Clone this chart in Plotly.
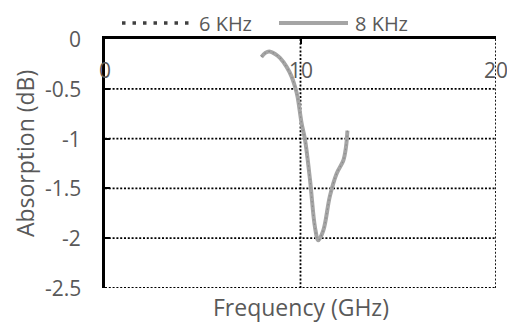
import plotly.graph_objects as go

freq = [8.0, 8.2, 8.4, 8.7, 8.95, 9.29, 9.55, 9.72, 9.85, 10.06, 10.23, 10.49, 10.74, 10.91, 11.17, 11.5, 11.85, 12.19, 12.33, 12.4]
abs_6k = [-0.18, -0.14, -0.125, -0.15, -0.19, -0.28, -0.38, -0.48, -0.58, -0.85, -1.01, -1.42, -1.89, -2.02, -1.92, -1.58, -1.35, -1.22, -1.08, -0.92]
abs_8k = [-0.18, -0.14, -0.125, -0.15, -0.19, -0.28, -0.38, -0.48, -0.58, -0.85, -1.01, -1.42, -1.89, -2.02, -1.92, -1.58, -1.35, -1.22, -1.08, -0.92]

x_ticks = [0, 10, 20]
x_tick_labels = ["0", "10", "20"]
y_ticks = [0, -0.5, -1, -1.5, -2, -2.5]
y_tick_labels = ["0", "-0.5", "-1", "-1.5", "-2", "-2.5"]

series_names = ["6 KHz", "8 KHz"]

FONT = "Open Sans"
GRAY = "#595959"
GRID = dict(color="black", width=1.8, dash="2px,1.8px")
TICK_SIZE = 21
TITLE_SIZE = 23
LEG_SIZE = 20

fig = go.Figure()
fig.add_trace(go.Scatter(x=freq, y=abs_8k, mode="lines", name=series_names[1], showlegend=False,
                         line=dict(color="#A5A5A5", width=4, shape="spline")))
fig.add_trace(go.Scatter(x=freq, y=abs_6k, mode="lines", name=series_names[0], showlegend=False,
                         line=dict(color="#8C8C8C", width=1.2, dash="1.5px,3px", shape="spline")))

# gridlines (including the ones at the range edges)
for xv in x_ticks[1:]:
    fig.add_shape(type="line", xref="x", yref="y", x0=xv, x1=xv, y0=y_ticks[-1], y1=y_ticks[0],
                  line=GRID, layer="below")
for yv in y_ticks[1:]:
    fig.add_shape(type="line", xref="x", yref="y", x0=x_ticks[0], x1=x_ticks[-1], y0=yv, y1=yv,
                  line=GRID, layer="below")

# tick labels
for xv, lab in zip(x_ticks, x_tick_labels):
    fig.add_annotation(x=xv, y=0, xref="x", yref="y", text=lab, showarrow=False,
                       xanchor="center", yanchor="middle", yshift=-31,
                       font=dict(family=FONT, size=TICK_SIZE, color=GRAY))
for yv, lab in zip(y_ticks, y_tick_labels):
    fig.add_annotation(x=0, y=yv, xref="paper", yref="y", text=lab, showarrow=False,
                       xanchor="right", yanchor="middle", xshift=-22,
                       font=dict(family=FONT, size=TICK_SIZE, color=GRAY))

# axis titles
fig.add_annotation(text="Frequency (GHz)", xref="paper", yref="paper", x=0.5, y=-19 / 249, yanchor="middle",
                   showarrow=False, font=dict(family=FONT, size=TITLE_SIZE, color=GRAY))
fig.add_annotation(text="Absorption (dB)", xref="paper", yref="paper", x=0, xshift=-80, y=0.538,
                   xanchor="center", yanchor="middle", textangle=-90,
                   showarrow=False, font=dict(family=FONT, size=TITLE_SIZE, color=GRAY))

# legend (drawn manually to match long legend keys)
LY = 1 + 16 / 249
fig.add_shape(type="line", xref="paper", yref="paper", x0=(122 - 105) / 391, x1=(190 - 105) / 391,
              y0=LY, y1=LY, line=dict(color="#404040", width=3.5, dash="3.5px,7px"))
fig.add_annotation(text=series_names[0], xref="paper", yref="paper", x=(197 - 105) / 391, y=LY,
                   xanchor="left", yanchor="middle", showarrow=False,
                   font=dict(family=FONT, size=LEG_SIZE, color=GRAY))
fig.add_shape(type="line", xref="paper", yref="paper", x0=(279 - 105) / 391, x1=(348 - 105) / 391,
              y0=LY, y1=LY, line=dict(color="#A5A5A5", width=4))
fig.add_annotation(text=series_names[1], xref="paper", yref="paper", x=(353 - 105) / 391, y=LY,
                   xanchor="left", yanchor="middle", showarrow=False,
                   font=dict(family=FONT, size=LEG_SIZE, color=GRAY))

fig.update_layout(
    width=507, height=323,
    margin=dict(l=105, r=11, t=39, b=35),
    paper_bgcolor="white", plot_bgcolor="white",
    font=dict(family=FONT, size=16, color=GRAY),
    showlegend=False,
    xaxis=dict(range=[0, 20], tickvals=x_ticks, side="top", showline=True, linecolor="black", linewidth=2.5,
               ticks="inside", ticklen=5, tickwidth=2, tickcolor="black", showticklabels=False,
               showgrid=False, zeroline=False),
    yaxis=dict(range=[-2.5, 0], tickvals=y_ticks, showline=True, linecolor="black", linewidth=2.5,
               ticks="inside", ticklen=5, tickwidth=2, tickcolor="black", showticklabels=False,
               showgrid=False, zeroline=False),
)

fig.write_html("out.html")
